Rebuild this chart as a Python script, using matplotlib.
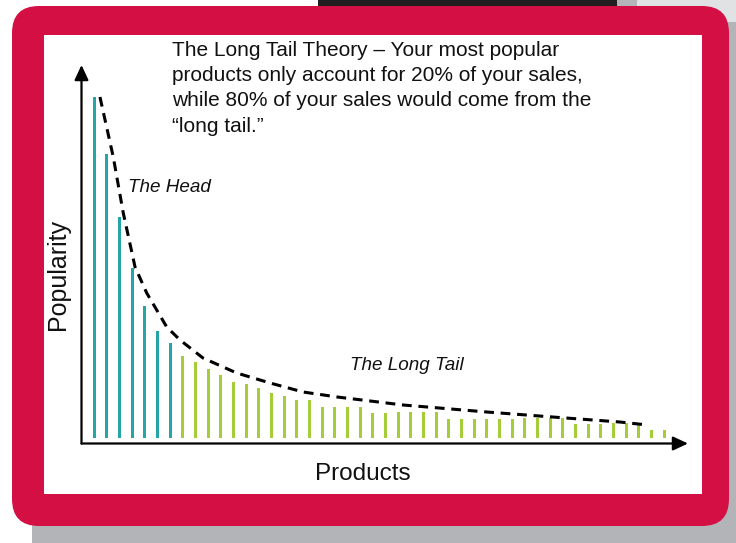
import matplotlib
matplotlib.use("Agg")
import matplotlib.pyplot as plt
from matplotlib.patches import FancyBboxPatch, Rectangle

plt.rcParams['font.family'] = ['Liberation Sans', 'DejaVu Sans']

# ---- data ----
head_values = [341, 284, 221, 170, 132, 107, 95]
tail_values = [82, 76, 69, 63, 56, 54, 50, 45, 42, 38, 38, 31, 31, 31, 31,
               25, 25, 26, 26, 26, 26, 19, 19, 19, 19, 19, 19, 20, 20, 20,
               20, 14, 14, 14, 15, 15, 15, 8, 8]
curve_x = [0.47, 1.52, 2.31, 3.24, 4.16, 5.74, 6.79, 8.6, 11.26, 13.9, 16.5,
           19.2, 21.8, 24.4, 26.3, 31.0, 36.2, 41.5, 43.7]
curve_y = [341, 281, 225, 171, 145, 111, 98, 80, 65, 55, 46,
           41, 37, 33, 31, 26, 21, 16, 13]

title_lines = ["The Long Tail Theory \u2013 Your most popular",
               "products only account for 20% of your sales,",
               "while 80% of your sales would come from the",
               "\u201clong tail.\u201d"]
head_label = "The Head"
tail_label = "The Long Tail"
x_label = "Products"
y_label = "Popularity"

TEAL = '#26a5a7'
GREEN = '#a5cd39'
RED = '#d40f44'

W, H = 736, 543
fig = plt.figure(figsize=(W / 100, H / 100), dpi=100)

# ---- background decoration in pixel coordinates ----
bg = fig.add_axes([0, 0, 1, 1])
bg.set_xlim(0, W)
bg.set_ylim(H, 0)
bg.axis('off')
bg.add_patch(Rectangle((617, 0), 130, 40, color='#e1e2e4', lw=0))
bg.add_patch(Rectangle((617, 0), 20, 40, color='#b4b5b9', lw=0))
bg.add_patch(Rectangle((318, 0), 299, 30, color='#231f20', lw=0))
bg.add_patch(FancyBboxPatch((32, 22), 740, 560,
                            boxstyle='round,pad=0,rounding_size=26',
                            color='#b3b4b8', lw=0))
bg.add_patch(FancyBboxPatch((12, 6), 717, 520,
                            boxstyle='round,pad=0,rounding_size=27',
                            color=RED, lw=0))
bg.add_patch(Rectangle((43.5, 35), 658, 459, color='white', lw=0))

ty = [50, 75.5, 101, 126.5]
for t, y in zip(title_lines, ty):
    bg.text(172, y, t, fontsize=15, ha='left', va='center', color='#111111')
bg.text(128, 188, head_label, fontsize=13.6, style='italic', ha='left',
        va='center', color='#111111')
bg.text(350, 366, tail_label, fontsize=13.6, style='italic', ha='left',
        va='center', color='#111111')
bg.text(363, 474, x_label, fontsize=17.5, ha='center', va='center',
        color='#111111')
bg.text(58, 274, y_label, fontsize=18, ha='center', va='center',
        rotation=90, color='#111111')

# ---- chart axes ----
L, R, T, B = 81.5, 688, 65, 443.5
step = 12.67
ax = fig.add_axes([L / W, 1 - B / H, (R - L) / W, (B - T) / H])
ax.patch.set_alpha(0)
ax.set_xlim((L - 94) / step, (R - 94) / step)
ax.set_ylim(-(B - 438), 438 - T)

values = head_values + tail_values
xs = list(range(len(values)))
colors = [TEAL] * len(head_values) + [GREEN] * len(tail_values)
bars = ax.bar(xs, values, width=3.0 / step, color=colors, linewidth=0)
for b in bars:
    b.set_snap(True)
    b.set_antialiased(False)

ax.plot(curve_x, curve_y, color='black', lw=2.2, dashes=(3.2, 2.2),
        solid_capstyle='butt', dash_capstyle='butt')

for s in ax.spines.values():
    s.set_visible(False)
ax.set_xticks([])
ax.set_yticks([])

arrow_kw = dict(arrowstyle='-|>,head_length=0.75,head_width=0.35',
                lw=1.6, color='black', shrinkA=0, shrinkB=0,
                mutation_scale=12)
ax.annotate('', xy=(0, 1), xytext=(0, 0), xycoords='axes fraction',
            textcoords='axes fraction', arrowprops=arrow_kw)
ax.annotate('', xy=(1, 0), xytext=(0, 0), xycoords='axes fraction',
            textcoords='axes fraction', arrowprops=arrow_kw)

fig.savefig('out.png', dpi=100)
